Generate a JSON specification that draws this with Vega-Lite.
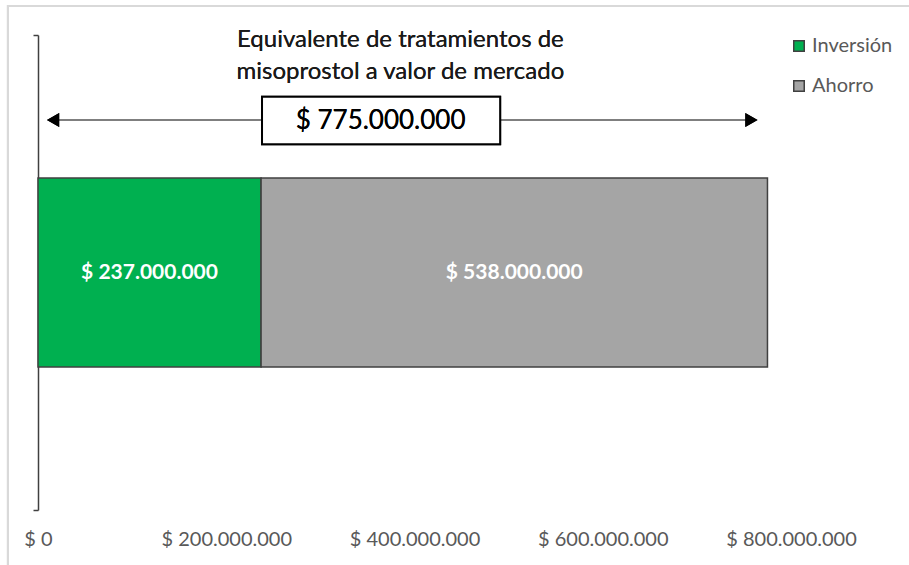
{
  "$schema": "https://vega.github.io/schema/vega-lite/v6.json",
  "autosize": "none",
  "width": 753,
  "height": 475,
  "padding": {"left": 38, "top": 35, "right": 118, "bottom": 55},
  "background": "white",
  "config": {
    "view": {"stroke": null},
    "font": "Lato",
    "locale": {"number": {"decimal": ",", "thousands": ".", "grouping": [3], "currency": ["$ ", ""]}}
  },
  "data": {"values": [
    {"serie": "Inversión", "valor": 237000000, "orden": 1},
    {"serie": "Ahorro", "valor": 538000000, "orden": 2}
  ]},
  "layer": [
    {
      "mark": {"type": "rect", "fill": null, "stroke": "#D9D9D9", "strokeWidth": 2},
      "encoding": {
        "x": {"datum": -32000000, "type": "quantitative", "scale": {"domain": [0, 800000000], "nice": false}},
        "x2": {"datum": 1000000000},
        "y": {"datum": 1.061, "type": "quantitative", "scale": {"domain": [0, 1], "nice": false},
          "axis": {"values": [0, 1], "labels": false, "title": null, "grid": false, "ticks": true, "tickSize": 5,
            "tickColor": "#404040", "domainColor": "#404040", "domainWidth": 1.5, "tickWidth": 1.5}},
        "y2": {"datum": -0.3}
      }
    },
    {
      "mark": {"type": "bar", "stroke": "#404040", "strokeWidth": 1.5, "height": 189},
      "encoding": {
        "x": {"field": "valor", "type": "quantitative", "stack": "zero",
          "scale": {"domain": [0, 800000000], "nice": false},
          "axis": {"values": [0, 200000000, 400000000, 600000000, 800000000], "format": "$,d", "title": null,
            "domain": false, "ticks": false, "grid": false, "labelFontSize": 20, "labelColor": "#595959",
            "labelPadding": 19, "labelFlush": false, "labelBound": false, "labelFont": "Lato"}},
        "order": {"field": "orden"},
        "color": {"field": "serie", "type": "nominal",
          "scale": {"domain": ["Inversión", "Ahorro"], "range": ["#00B050", "#A5A5A5"]},
          "legend": {"title": null, "orient": "none", "legendX": 751, "legendY": 1,
            "symbolType": "square", "symbolSize": 110, "symbolStrokeColor": "#404040", "symbolStrokeWidth": 1.5,
            "labelFontSize": 20, "labelColor": "#595959", "rowPadding": 20, "labelOffset": 3, "labelFont": "Lato"}}
      }
    },
    {
      "mark": {"type": "text", "color": "white", "fontWeight": "bold", "fontSize": 21, "baseline": "middle", "align": "center"},
      "encoding": {
        "x": {"field": "valor", "type": "quantitative", "stack": "zero", "bandPosition": 0.5},
        "order": {"field": "orden"},
        "text": {"field": "valor", "type": "quantitative", "format": "$,d"}
      }
    },
    {
      "mark": {"type": "rule", "color": "#7F7F7F", "strokeWidth": 2},
      "encoding": {
        "x": {"datum": 16000000, "type": "quantitative"},
        "x2": {"datum": 758000000},
        "y": {"datum": 0.821, "type": "quantitative"}
      }
    },
    {
      "mark": {"type": "point", "shape": "triangle-left", "filled": true, "color": "black", "size": 200, "opacity": 1},
      "encoding": {
        "x": {"datum": 16000000, "type": "quantitative"},
        "y": {"datum": 0.821, "type": "quantitative"}
      }
    },
    {
      "mark": {"type": "point", "shape": "triangle-right", "filled": true, "color": "black", "size": 200, "opacity": 1},
      "encoding": {
        "x": {"datum": 758000000, "type": "quantitative"},
        "y": {"datum": 0.821, "type": "quantitative"}
      }
    },
    {
      "mark": {"type": "rect", "fill": "white", "stroke": "black", "strokeWidth": 2},
      "encoding": {
        "x": {"datum": 238000000, "type": "quantitative"},
        "x2": {"datum": 491000000},
        "y": {"datum": 0.77, "type": "quantitative"},
        "y2": {"datum": 0.87}
      }
    },
    {
      "mark": {"type": "text", "fontSize": 26, "color": "#000000", "align": "center", "baseline": "middle"},
      "encoding": {
        "x": {"datum": 364000000, "type": "quantitative"},
        "y": {"datum": 0.818, "type": "quantitative"},
        "text": {"datum": 775000000, "type": "quantitative", "format": "$,d"}
      }
    },
    {
      "mark": {"type": "text", "fontSize": 24, "color": "#1a1a1a", "align": "center", "baseline": "middle", "lineHeight": 32,
        "text": ["Equivalente de tratamientos de", "misoprostol a valor de mercado"]},
      "encoding": {
        "x": {"datum": 385000000, "type": "quantitative"},
        "y": {"datum": 0.99, "type": "quantitative"}
      }
    }
  ]
}
